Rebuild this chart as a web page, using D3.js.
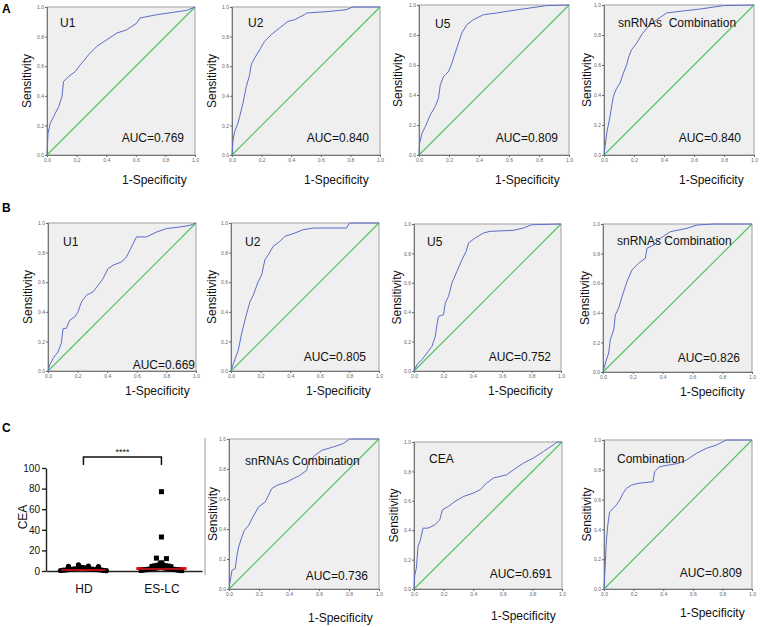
<!DOCTYPE html>
<html><head><meta charset="utf-8">
<script src="https://cdn.jsdelivr.net/npm/d3@7"></script>
<style>body{margin:0;background:#fff}svg{display:block;font-family:"Liberation Sans",Arial,sans-serif}</style>
</head><body>
<script>
// ---------- DATA ----------
const rocTicks = [0, 0.2, 0.4, 0.6, 0.8, 1.0];
const diagonal = [[0, 0], [1, 1]];

const rocA_U1 = [[0,0],[0.007,0.147],[0.022,0.214],[0.045,0.26],[0.079,0.327],[0.101,0.395],[0.112,0.497],[0.146,0.53],[0.191,0.564],[0.225,0.609],[0.281,0.677],[0.337,0.734],[0.404,0.779],[0.472,0.824],[0.539,0.846],[0.607,0.892],[0.629,0.926],[0.742,0.948],[0.854,0.964],[0.944,0.977],[1,1]];
const rocA_U2 = [[0,0],[0.007,0.102],[0.018,0.158],[0.04,0.214],[0.052,0.26],[0.074,0.35],[0.097,0.463],[0.119,0.542],[0.13,0.61],[0.153,0.655],[0.187,0.711],[0.22,0.767],[0.265,0.813],[0.321,0.858],[0.378,0.903],[0.422,0.914],[0.49,0.948],[0.502,0.959],[0.66,0.97],[0.771,0.982],[0.816,1],[1,1]];
const rocA_U5 = [[0,0],[0.004,0.078],[0.02,0.145],[0.042,0.189],[0.075,0.267],[0.108,0.323],[0.13,0.379],[0.142,0.468],[0.164,0.523],[0.197,0.557],[0.219,0.612],[0.252,0.713],[0.285,0.813],[0.319,0.869],[0.363,0.902],[0.429,0.935],[0.518,0.947],[0.628,0.964],[0.739,0.98],[0.85,0.996],[1,1]];
const rocA_Comb = [[0,0],[0.007,0.056],[0.018,0.145],[0.04,0.256],[0.062,0.39],[0.084,0.445],[0.107,0.479],[0.129,0.546],[0.151,0.601],[0.162,0.646],[0.184,0.702],[0.218,0.746],[0.251,0.802],[0.296,0.857],[0.351,0.902],[0.418,0.947],[0.507,0.958],[0.64,0.973],[0.796,0.996],[1,1]];

const rocB_U1 = [[0,0],[0.011,0.04],[0.034,0.085],[0.068,0.13],[0.09,0.187],[0.102,0.288],[0.124,0.288],[0.147,0.344],[0.181,0.366],[0.203,0.4],[0.226,0.467],[0.26,0.512],[0.305,0.535],[0.339,0.58],[0.372,0.625],[0.406,0.692],[0.44,0.715],[0.497,0.737],[0.53,0.771],[0.564,0.838],[0.598,0.906],[0.666,0.906],[0.734,0.939],[0.801,0.962],[0.892,0.973],[0.959,0.984],[1,1]];
const rocB_U2 = [[0,0],[0.016,0.05],[0.049,0.14],[0.072,0.253],[0.094,0.344],[0.128,0.468],[0.151,0.514],[0.184,0.604],[0.207,0.649],[0.229,0.751],[0.252,0.785],[0.285,0.842],[0.33,0.876],[0.364,0.91],[0.431,0.932],[0.488,0.955],[0.555,0.966],[0.78,0.966],[0.802,1],[1,1]];
const rocB_U5 = [[0,0],[0.02,0.043],[0.054,0.077],[0.088,0.122],[0.122,0.168],[0.145,0.236],[0.156,0.315],[0.167,0.372],[0.201,0.383],[0.213,0.463],[0.235,0.508],[0.258,0.599],[0.292,0.678],[0.326,0.757],[0.355,0.814],[0.371,0.871],[0.416,0.905],[0.473,0.939],[0.518,0.95],[0.676,0.957],[0.744,0.973],[0.801,0.995],[1,1]];
const rocB_Comb = [[0,0],[0.016,0.061],[0.038,0.128],[0.049,0.218],[0.072,0.285],[0.083,0.387],[0.105,0.431],[0.128,0.51],[0.161,0.611],[0.195,0.69],[0.239,0.735],[0.284,0.769],[0.295,0.836],[0.34,0.858],[0.385,0.903],[0.452,0.948],[0.564,0.971],[0.631,0.993],[0.743,1],[1,1]];

const rocC_snRNA = [[0,0],[0.009,0.058],[0.02,0.124],[0.042,0.136],[0.053,0.224],[0.064,0.28],[0.086,0.347],[0.102,0.391],[0.131,0.424],[0.153,0.469],[0.197,0.547],[0.241,0.58],[0.263,0.624],[0.285,0.669],[0.319,0.691],[0.385,0.713],[0.429,0.736],[0.473,0.758],[0.518,0.791],[0.529,0.847],[0.573,0.891],[0.617,0.924],[0.695,0.947],[0.761,0.969],[0.805,1],[1,1]];
const rocC_CEA = [[0,0],[0.005,0.095],[0.016,0.141],[0.027,0.289],[0.043,0.334],[0.061,0.414],[0.095,0.414],[0.14,0.436],[0.174,0.47],[0.192,0.539],[0.231,0.561],[0.276,0.595],[0.333,0.629],[0.4,0.652],[0.446,0.675],[0.491,0.72],[0.536,0.755],[0.627,0.777],[0.672,0.811],[0.74,0.857],[0.808,0.891],[0.876,0.936],[0.943,0.982],[0.966,1],[1,1]];
const rocC_Comb = [[0,0],[0.005,0.103],[0.011,0.215],[0.016,0.327],[0.027,0.439],[0.038,0.518],[0.061,0.54],[0.083,0.563],[0.106,0.596],[0.128,0.641],[0.151,0.675],[0.185,0.697],[0.23,0.709],[0.331,0.72],[0.342,0.787],[0.376,0.821],[0.5,0.843],[0.556,0.865],[0.624,0.91],[0.691,0.944],[0.759,0.966],[0.827,1],[1,1]];

const rocTitles = ["U1", "U2", "U5", "snRNAs  Combination", "U1", "U2", "U5", "snRNAs Combination", "snRNAs Combination", "CEA", "Combination"];
const aucLabels = ["AUC=0.769", "AUC=0.840", "AUC=0.809", "AUC=0.840", "AUC=0.669", "AUC=0.805", "AUC=0.752", "AUC=0.826", "AUC=0.736", "AUC=0.691", "AUC=0.809"];
const rocSeries = [rocA_U1, rocA_U2, rocA_U5, rocA_Comb, rocB_U1, rocB_U2, rocB_U5, rocB_Comb, rocC_snRNA, rocC_CEA, rocC_Comb];

const ceaCategories = ["HD", "ES-LC"];
const ceaTicks = [0, 20, 40, 60, 80, 100];
const ceaHD = [6, 4.8, 4.5, 4.2, 3.5, 3.0, 2.8, 2.5, 2.3, 2.0, 2.0, 1.8, 1.6, 1.5, 1.4, 1.2, 1.0, 1.0, 0.8, 0.6, 0.5, 0.3];
const ceaESLC = [77, 33, 12.5, 12, 8, 7, 6, 5.5, 5, 5, 4.8, 4.5, 4.2, 3.6, 3.2, 3, 2.8, 2.6, 2.4, 2.2, 2, 1.8, 1.6, 1.4, 1.2, 1, 0.8, 0.6, 0.4];
const ceaMedians = [1.4, 2.4];
const sigLabel = "****";

// ---------- LAYOUT (pixel boxes) ----------
const boxes = [
  {l:47, r:195, t:7, b:155, tx:60, ty:27, ax:184, ay:142, xlx:122, xly:184, ylx:27},
  {l:232, r:380, t:7, b:155, tx:248, ty:27, ax:369, ay:142, xlx:304, xly:184, ylx:212},
  {l:419, r:569, t:5, b:155, tx:435, ty:28, ax:558, ay:142, xlx:495, xly:184, ylx:398},
  {l:604, r:754, t:5, b:155, tx:618, ty:27, ax:741, ay:142, xlx:679, xly:184, ylx:587},
  {l:48, r:196, t:223, b:371, tx:63, ty:246, ax:195, ay:369, xlx:125, xly:395, ylx:28},
  {l:231, r:379, t:223, b:371, tx:245, ty:246, ax:366, ay:361, xlx:306, xly:395, ylx:212},
  {l:414, r:561, t:224, b:371, tx:427, ty:246, ax:551, ay:361, xlx:488, xly:395, ylx:397},
  {l:603, r:752, t:224, b:372, tx:617, ty:245, ax:740, ay:362, xlx:680, xly:396, ylx:585},
  {l:229, r:379, t:439, b:589, tx:245, ty:465, ax:368, ay:580, xlx:308, xly:622, ylx:213},
  {l:414, r:562, t:442, b:589, tx:429, ty:463, ax:552, ay:578, xlx:491, xly:620, ylx:394},
  {l:604, r:752, t:440, b:589, tx:617, ty:463, ax:742, ay:577, xlx:680, xly:617, ylx:587}
];

const svg = d3.select("body").append("svg").attr("width", 760).attr("height", 627);

function drawROC(p, data, title, auc) {
  const g = svg.append("g");
  const x = d3.scaleLinear().domain([0, 1]).range([p.l, p.r]);
  const y = d3.scaleLinear().domain([0, 1]).range([p.b, p.t]);
  g.append("rect").attr("x", p.l).attr("y", p.t).attr("width", p.r - p.l).attr("height", p.b - p.t)
    .attr("fill", "#efefef").attr("stroke", "#a0a0a0").attr("stroke-width", 1);
  const ax = g.append("g").attr("transform", `translate(0,${p.b})`)
    .call(d3.axisBottom(x).tickValues(rocTicks).tickFormat(d3.format(".1f")).tickSize(2).tickPadding(1));
  const ay = g.append("g").attr("transform", `translate(${p.l},0)`)
    .call(d3.axisLeft(y).tickValues(rocTicks).tickFormat(d3.format(".1f")).tickSize(2).tickPadding(1));
  [ax, ay].forEach(a => {
    a.selectAll("text").attr("font-size", 5).attr("fill", "#666").attr("font-family", '"Liberation Sans",Arial,sans-serif');
    a.selectAll("line").attr("stroke", "#666");
    a.select(".domain").attr("stroke", "#777");
  });
  const line = d3.line().x(d => x(d[0])).y(d => y(d[1]));
  g.append("path").attr("d", line(diagonal)).attr("fill", "none").attr("stroke", "#4cc25e").attr("stroke-width", 1.1);
  g.append("path").attr("d", line(data)).attr("fill", "none").attr("stroke", "#5b6dc8").attr("stroke-width", 1);
  g.append("text").attr("x", p.tx).attr("y", p.ty).attr("font-size", 12).attr("fill", "#111").attr("xml:space", "preserve").style("white-space", "pre").text(title);
  g.append("text").attr("x", p.ax).attr("y", p.ay).attr("text-anchor", "end").attr("font-size", 12).attr("fill", "#111").text(auc);
  g.append("text").attr("x", p.xlx).attr("y", p.xly).attr("font-size", 12).attr("fill", "#111").text("1-Specificity");
  g.append("text").attr("transform", `translate(${p.ylx},${(p.t + p.b) / 2}) rotate(-90)`)
    .attr("text-anchor", "middle").attr("dy", "0.35em").attr("font-size", 12).attr("fill", "#111").text("Sensitivity");
}
rocSeries.forEach((d, i) => drawROC(boxes[i], d, rocTitles[i], aucLabels[i]));

// ---------- Panel letters ----------
[["A", 13], ["B", 212], ["C", 432]].forEach(([t, yy]) =>
  svg.append("text").attr("x", 2).attr("y", yy).attr("font-size", 12).attr("font-weight", "bold").attr("fill", "#000").text(t));

// ---------- CEA scatter ----------
const yC = d3.scaleLinear().domain([0, 100]).range([571, 468]);
const xC = d3.scalePoint().domain(ceaCategories).range([46, 202]).padding(0.5).align(0.48);
const gy = svg.append("g").attr("transform", "translate(46,0)")
  .call(d3.axisLeft(yC).tickValues(ceaTicks).tickSize(4).tickSizeOuter(0).tickPadding(2));
gy.selectAll("text").attr("font-size", 10).attr("fill", "#111").attr("font-family", '"Liberation Sans",Arial,sans-serif');
gy.selectAll("line,.domain").attr("stroke", "#222").attr("stroke-width", 1.4);
const gx = svg.append("g").attr("transform", "translate(0,571)")
  .call(d3.axisBottom(xC).tickSize(0).tickSizeOuter(0).tickPadding(13.5));
gx.selectAll("text").attr("font-size", 12).attr("fill", "#111").attr("font-family", '"Liberation Sans",Arial,sans-serif');
gx.select(".domain").attr("stroke", "#222").attr("stroke-width", 1.6);

svg.append("text").attr("transform", "translate(23,517) rotate(-90)").attr("text-anchor", "middle")
  .attr("dy", "0.35em").attr("font-size", 12).attr("fill", "#111").text("CEA");

function swarm(values, cat) {
  const cx = xC(cat);
  const rows = d3.group(values, v => Math.floor((yC(0) - yC(v)) / 4));
  const out = [];
  rows.forEach(vals => {
    const s = vals.length > 5 ? 2.7 : 10;
    const n = vals.length;
    vals.forEach((v, i) => {
      const k = Math.ceil(i / 2), sign = i % 2 ? 1 : -1;
      const off = n % 2 ? sign * k * s : (i % 2 ? 1 : -1) * (Math.floor(i / 2) + 0.5) * s;
      out.push({x: cx + off, y: yC(v)});
    });
  });
  return out;
}
const halfW = [22, 25];
ceaCategories.forEach((c, i) => {
  svg.append("line").attr("x1", xC(c) - halfW[i]).attr("x2", xC(c) + halfW[i])
    .attr("y1", yC(ceaMedians[i])).attr("y2", yC(ceaMedians[i])).attr("stroke", "#e8141b").attr("stroke-width", 3);
});
svg.append("g").selectAll("circle").data(swarm(ceaHD, "HD")).join("circle")
  .attr("cx", d => d.x).attr("cy", d => d.y).attr("r", 2.6).attr("fill", "#000");
svg.append("g").selectAll("rect").data(swarm(ceaESLC, "ES-LC")).join("rect")
  .attr("x", d => d.x - 2.5).attr("y", d => d.y - 2.5).attr("width", 5).attr("height", 5).attr("fill", "#000");
ceaCategories.forEach((c, i) => {
  svg.append("line").attr("x1", xC(c) - halfW[i]).attr("x2", xC(c) + halfW[i])
    .attr("y1", yC(ceaMedians[i]) + 0.5).attr("y2", yC(ceaMedians[i]) + 0.5).attr("stroke", "#e8141b").attr("stroke-width", 1.5);
});
svg.append("path").attr("d", `M${xC("HD")},465V457H${xC("ES-LC")}V465`).attr("fill", "none").attr("stroke", "#111").attr("stroke-width", 1.5);
svg.append("text").attr("x", (xC("HD") + xC("ES-LC")) / 2).attr("y", 455).attr("text-anchor", "middle")
  .attr("font-size", 9).attr("fill", "#111").text(sigLabel);
svg.append("line").attr("x1", 205).attr("x2", 205).attr("y1", 438).attr("y2", 575).attr("stroke", "#999").attr("stroke-width", 1);
</script>
</body></html>
